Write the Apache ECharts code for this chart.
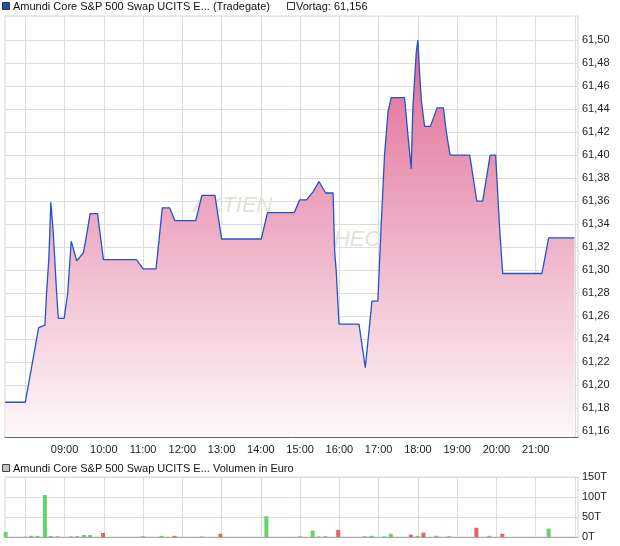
<!DOCTYPE html>
<html><head><meta charset="utf-8">
<script src="https://cdn.jsdelivr.net/npm/echarts@6/dist/echarts.min.js"></script>
<style>html,body{margin:0;padding:0;background:#fff}#c{width:620px;height:546px}</style>
</head><body><div id="c"></div>
<script>
// ---- data (hours are decimal hours of the trading day) ----
const priceHours = [7.49, 8.00, 8.34, 8.50, 8.54, 8.60, 8.65, 8.71, 8.80, 8.84, 8.99, 9.08, 9.17, 9.31, 9.48, 9.58, 9.65, 9.84, 9.99, 10.83, 11.00, 11.33, 11.49, 11.68, 11.81, 12.34, 12.50, 12.83, 13.00, 14.01, 14.17, 14.85, 14.99, 15.16, 15.33, 15.48, 15.65, 15.84, 15.88, 15.92, 15.99, 16.50, 16.66, 16.83, 16.98, 17.07, 17.15, 17.24, 17.32, 17.66, 17.75, 17.83, 17.87, 17.92, 17.96, 18.00, 18.04, 18.09, 18.17, 18.32, 18.49, 18.65, 18.72, 18.82, 19.32, 19.50, 19.65, 19.84, 19.98, 20.08, 20.16, 21.16, 21.33, 21.99];
const priceValues = [61.185, 61.185, 61.250, 61.252, 61.279, 61.310, 61.359, 61.334, 61.279, 61.258, 61.258, 61.280, 61.325, 61.308, 61.315, 61.334, 61.349, 61.349, 61.309, 61.309, 61.301, 61.301, 61.354, 61.354, 61.343, 61.343, 61.365, 61.365, 61.327, 61.327, 61.350, 61.350, 61.361, 61.361, 61.368, 61.377, 61.367, 61.367, 61.316, 61.299, 61.253, 61.253, 61.215, 61.273, 61.273, 61.343, 61.400, 61.438, 61.450, 61.450, 61.416, 61.388, 61.440, 61.468, 61.490, 61.500, 61.473, 61.447, 61.425, 61.425, 61.441, 61.441, 61.421, 61.400, 61.400, 61.360, 61.360, 61.400, 61.400, 61.337, 61.297, 61.297, 61.328, 61.328];
const previousClose = 61.156;

const volHours = [7.50, 8.00, 8.15, 8.31, 8.50, 8.65, 8.82, 9.16, 9.32, 9.49, 9.65, 9.98, 10.99, 11.47, 11.80, 12.49, 12.97, 14.14, 14.99, 15.32, 15.47, 15.64, 15.97, 16.64, 16.82, 17.15, 17.31, 17.82, 17.99, 18.14, 18.47, 18.80, 19.49, 19.82, 20.15, 21.33];
const volValues = [12.5, 1, 3, 3, 105, 2.5, 1.5, 1.5, 1.5, 5, 5, 10, 1.5, 3, 3, 1.5, 8, 52, 1.5, 16, 1.5, 1.5, 18, 1.5, 3, 1.5, 8, 6, 3, 11, 3, 1.5, 23, 3, 8, 21];
const volDirection = ['up','flat','up','up','up','up','down','up','down','up','up','down','down','up','down','up','down','up','up','up','up','down','down','down','up','up','up','down','up','down','up','down','down','up','down','up'];

const hourGridTicks = [8, 9, 10, 11, 12, 13, 14, 15, 16, 17, 18, 19, 20, 21, 22];
const hourLabelTicks = [9, 10, 11, 12, 13, 14, 15, 16, 17, 18, 19, 20, 21];
const priceTicks = [61.16, 61.18, 61.20, 61.22, 61.24, 61.26, 61.28, 61.30, 61.32, 61.34, 61.36, 61.38, 61.40, 61.42, 61.44, 61.46, 61.48, 61.50];
const volTicks = [0, 50, 100, 150];

const legendMain = 'Amundi Core S&P 500 Swap UCITS E... (Tradegate)';
const legendPrev = 'Vortag: ' + previousClose.toFixed(3).replace('.', ',');
const legendVol = 'Amundi Core S&P 500 Swap UCITS E... Volumen in Euro';

// ---- chart ----
const FONT = '"Liberation Sans", Arial, sans-serif';
const GRID_C = '#dcdcdc';
const X_MIN = 7.483, X_MAX = 22.078;
const Y_MIN = 61.1548, Y_MAX = 61.5209;
const chart = echarts.init(document.getElementById('c'), null, {renderer: 'canvas'});
const fmtHour = v => String(Math.round(v)).padStart(2, '0') + ':00';
const dirColor = {up: '#66d466', down: '#e06666', flat: '#a8a8a8'};

const xCommon = (idx, showLabels, lineColor) => ({
  type: 'value', gridIndex: idx, min: X_MIN, max: X_MAX,
  axisLine: {show: true, onZero: false, lineStyle: {color: lineColor, width: 1}},
  axisTick: {show: false, customValues: hourGridTicks},
  splitLine: {show: true, lineStyle: {color: GRID_C, width: 1}},
  axisLabel: showLabels ? {customValues: hourLabelTicks, formatter: fmtHour, color: '#222', fontSize: 11, fontFamily: FONT, margin: 7}
                        : {show: false}
});

chart.setOption({
  animation: false,
  textStyle: {fontFamily: FONT},
  grid: [
    {left: 5, right: 42, top: 16, height: 421, show: true, borderColor: '#d4d4d4', borderWidth: 1, backgroundColor: 'transparent'},
    {left: 5, right: 42, top: 477, height: 60, show: true, borderColor: '#d4d4d4', borderWidth: 1, backgroundColor: 'transparent'}
  ],
  xAxis: [xCommon(0, true, '#666'), xCommon(1, false, '#aaa')],
  yAxis: [
    {
      type: 'value', gridIndex: 0, position: 'right', min: Y_MIN, max: Y_MAX,
      axisLine: {show: false},
      axisTick: {show: false, customValues: priceTicks},
      splitLine: {show: true, lineStyle: {color: GRID_C, width: 1}},
      axisLabel: {customValues: priceTicks, formatter: v => v.toFixed(2).replace('.', ','), color: '#222', fontSize: 11, fontFamily: FONT, margin: 4}
    },
    {
      type: 'value', gridIndex: 1, position: 'right', min: 0, max: 150, interval: 50,
      axisLine: {show: false},
      axisTick: {show: false},
      splitLine: {show: true, lineStyle: {color: GRID_C, width: 1}},
      axisLabel: {formatter: v => v + 'T', color: '#222', fontSize: 11, fontFamily: FONT, margin: 4}
    }
  ],
  graphic: [
    {type: 'text', left: 193, top: 195, z: 1, silent: true,
     style: {text: 'AKTIEN', fill: '#e4e0d9', font: 'italic 22px ' + FONT}},
    {type: 'text', left: 318, top: 229, z: 1, silent: true,
     style: {text: 'CHECK', fill: '#e4e0d9', font: 'italic 22px ' + FONT}},
    {type: 'rect', shape: {x: 2.5, y: 2.5, width: 7, height: 7}, z: 10,
     style: {fill: '#1f4fc2', stroke: '#333', lineWidth: 1}},
    {type: 'text', x: 13, y: 6.5, z: 10,
     style: {text: legendMain, fill: '#111', font: '11px ' + FONT, verticalAlign: 'middle'}},
    {type: 'rect', shape: {x: 287.5, y: 2.5, width: 7, height: 7}, z: 10,
     style: {fill: '#fff', stroke: '#333', lineWidth: 1}},
    {type: 'text', x: 296, y: 6.5, z: 10,
     style: {text: legendPrev, fill: '#111', font: '11px ' + FONT, verticalAlign: 'middle'}},
    {type: 'rect', shape: {x: 2.5, y: 464.5, width: 7, height: 7}, z: 10,
     style: {fill: '#c4c4c4', stroke: '#444', lineWidth: 1}},
    {type: 'text', x: 13, y: 468.5, z: 10,
     style: {text: legendVol, fill: '#111', font: '11px ' + FONT, verticalAlign: 'middle'}}
  ],
  series: [
    {
      type: 'line', xAxisIndex: 0, yAxisIndex: 0,
      data: priceHours.map((h, i) => [h, priceValues[i]]),
      showSymbol: false, symbol: 'none',
      lineStyle: {color: '#1f55cc', width: 1.3},
      areaStyle: {
        origin: 'start',
        opacity: 1,
        color: new echarts.graphic.LinearGradient(0, 0, 0, 1, [
          {offset: 0, color: '#e06a94'},
          {offset: 1, color: '#fdf8fa'}
        ])
      },
      z: 3
    },
    {
      type: 'bar', xAxisIndex: 1, yAxisIndex: 1, barWidth: 4,
      data: volHours.map((h, i) => ({value: [h, volValues[i]], itemStyle: {color: dirColor[volDirection[i]]}})),
      z: 3
    }
  ]
});
</script>
</body></html>
